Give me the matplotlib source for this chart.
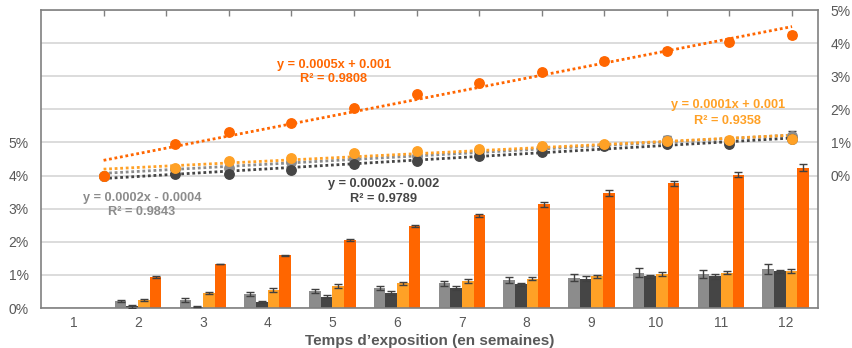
import numpy as np
import matplotlib
matplotlib.use("Agg")
import matplotlib.pyplot as plt

plt.rcParams['font.family'] = ['Liberation Sans', 'DejaVu Sans']

# ---------------- data ----------------
weeks = np.arange(1, 13)
week_labels = [str(w) for w in weeks]
days = np.array([7, 15, 21, 28, 35, 42, 49, 56, 63, 70, 77, 84])

gray = [0, 0.21, 0.23, 0.42, 0.51, 0.60, 0.74, 0.85, 0.92, 1.07, 1.03, 1.18]
dark = [0, 0.05, 0.04, 0.18, 0.34, 0.45, 0.60, 0.71, 0.89, 0.96, 0.96, 1.11]
light = [0, 0.24, 0.45, 0.53, 0.67, 0.74, 0.81, 0.89, 0.96, 1.03, 1.07, 1.11]
orange = [0, 0.94, 1.33, 1.59, 2.04, 2.47, 2.80, 3.13, 3.47, 3.77, 4.03, 4.24]

err_gray = [0, 0.02, 0.06, 0.06, 0.05, 0.07, 0.08, 0.09, 0.10, 0.13, 0.12, 0.16]
err_dark = [0, 0.05, 0.02, 0.03, 0.04, 0.05, 0.05, 0.06, 0.08, 0.05, 0.07, 0.05]
err_light = [0, 0.02, 0.04, 0.06, 0.06, 0.05, 0.06, 0.05, 0.05, 0.06, 0.04, 0.06]
err_orange = [0, 0.02, 0.01, 0.02, 0.03, 0.03, 0.05, 0.07, 0.08, 0.08, 0.07, 0.10]

left_ticks = [0, 1, 2, 3, 4, 5]
right_ticks = [0, 1, 2, 3, 4, 5]

eq_orange = ["y = 0.0005x + 0.001", "R² = 0.9808"]
eq_light = ["y = 0.0001x + 0.001", "R² = 0.9358"]
eq_gray = ["y = 0.0002x - 0.0004", "R² = 0.9843"]
eq_dark = ["y = 0.0002x - 0.002", "R² = 0.9789"]
xlabel = "Temps d’exposition (en semaines)"

C_GRAY = '#8C8C8C'
C_DARK = '#454545'
C_LIGHT = '#FFA126'
C_ORANGE = '#FF6600'
C_TXT = '#595959'
C_SPINE = '#808080'

series = [(gray, err_gray, C_GRAY), (dark, err_dark, C_DARK),
          (light, err_light, C_LIGHT), (orange, err_orange, C_ORANGE)]

W, H = 852, 348
fig = plt.figure(figsize=(W / 100, H / 100), dpi=100)
L, R, B, T = 41, 818, 308, 10
pos = [L / W, (H - B) / H, (R - L) / W, (B - T) / H]

# ---------------- bar axes ----------------
ax = fig.add_axes(pos)
ax.set_xlim(0.5, 12.5)
ax.set_ylim(0, 9)
ax.set_yticks(range(0, 10))
ax.set_yticklabels([f'{i}%' if i in left_ticks else '' for i in range(10)])
ax.set_xticks(weeks)
ax.set_xticklabels(week_labels)
ax.tick_params(axis='both', length=0, labelsize=10, labelcolor=C_TXT, pad=9)
ax.tick_params(axis='x', pad=6)
ax.grid(axis='y', color='#D9D9D9', lw=1.3)
ax.set_axisbelow(True)
for s in ax.spines.values():
    s.set_color(C_SPINE)
    s.set_linewidth(1.2)

bw = 0.18
for i, (vals, errs, col) in enumerate(series):
    x = weeks + (i - 1.5) * bw
    v = np.array(vals)
    e = np.array(errs)
    ax.bar(x, v, bw, color=col, zorder=2)
    m = e > 0
    ax.errorbar(x[m], v[m], yerr=e[m], fmt='none', ecolor='#404040',
                elinewidth=1, capsize=3, capthick=1, zorder=3)

fig.text((L + R) / 2 / W, 1 - 344.8 / H, xlabel, ha='center', va='baseline',
         fontsize=11, fontweight='bold', color=C_TXT)

# ---------------- scatter axes ----------------
ax2 = fig.add_axes(pos, frameon=False, label='scatter')
ax2.set_xlim(0, 86.9)
ax2.set_ylim(-4, 5)
ax2.xaxis.tick_top()
ax2.yaxis.tick_right()
ax2.set_xticks(np.arange(7, 85, 7))
ax2.set_xticklabels([])
ax2.tick_params(axis='x', direction='in', length=4, width=1, color=C_SPINE)
ax2.set_yticks(right_ticks)
ax2.set_yticklabels([f'{i}%' for i in right_ticks])
ax2.tick_params(axis='y', length=0, labelsize=10, labelcolor=C_TXT, pad=9)

for k, (vals, errs, col) in enumerate(series):
    coef = np.polyfit(days, vals, 1)
    xx = np.array([days[0], days[-1]])
    ax2.plot(xx, np.polyval(coef, xx), ls=(0, (1, 1)), lw=2, color=col, zorder=2 + k)
for k, (vals, errs, col) in enumerate(series):
    ax2.errorbar(days, vals, yerr=errs, fmt='o', ms=6.8, color=col, mec=col,
                 ecolor='#404040', elinewidth=1, capsize=3, capthick=1, zorder=10 + k)

# ---------------- equations ----------------
def label(lines, xc, y1, y2, col):
    fig.text(xc / W, 1 - y1 / H, lines[0], ha='center', va='center', color=col,
             fontsize=9.2, fontweight='bold')
    fig.text(xc / W, 1 - y2 / H, lines[1], ha='center', va='center', color=col,
             fontsize=9.2, fontweight='bold')

label(eq_orange, 334, 65, 79, C_ORANGE)
label(eq_light, 728, 105, 121, C_LIGHT)
label(eq_gray, 142, 198, 212, C_GRAY)
label(eq_dark, 384, 184, 199, C_DARK)

fig.savefig('out.png', dpi=100)
